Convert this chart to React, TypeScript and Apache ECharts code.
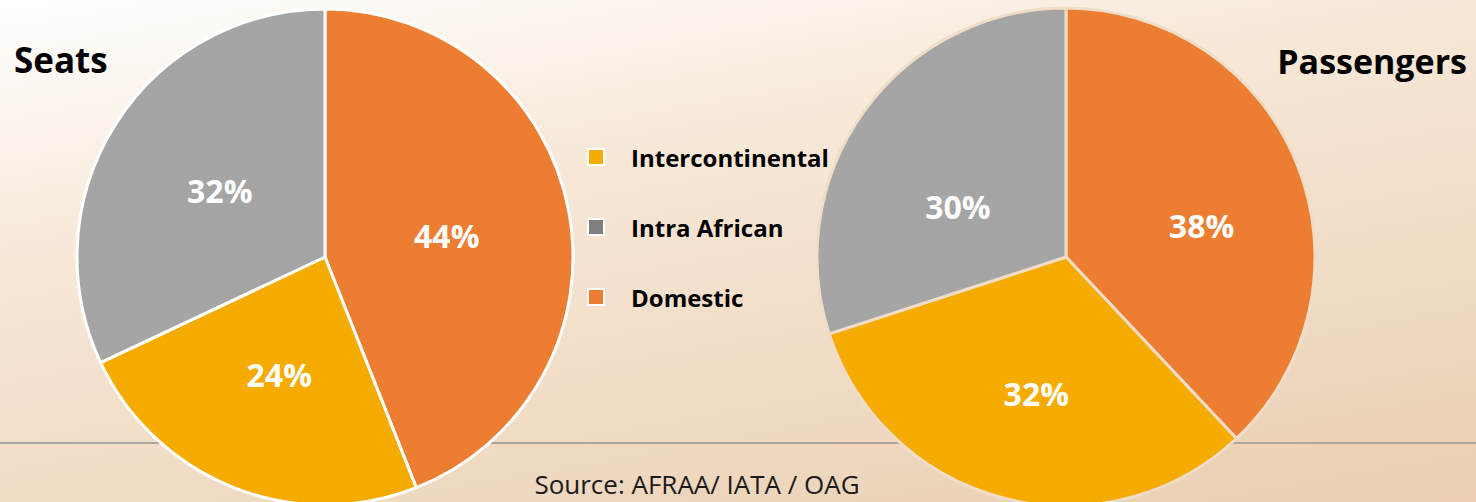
import React, { useEffect, useRef } from "react";
import * as echarts from "echarts";

const categories = ["Domestic", "Intercontinental", "Intra African"];
const seatsValues = [44, 24, 32];
const passengerValues = [38, 32, 30];
const legendOrder = ["Intercontinental", "Intra African", "Domestic"];
const sliceColors: Record<string, string> = {
  Domestic: "#ED7D31",
  Intercontinental: "#F5AB00",
  "Intra African": "#A5A5A5",
};
const legendColors: Record<string, string> = {
  Domestic: "#ED7D31",
  Intercontinental: "#F5AB00",
  "Intra African": "#7F7F7F",
};
const titles = ["Seats", "Passengers"];
const sourceText = "Source: AFRAA/ IATA / OAG";

// label nudges [dx, dy] per series / data index, mimicking the original placement
const labelNudges = [
  [
    [-3, 2],
    [1, -1],
    [2, 2],
  ],
  [
    [17, 15],
    [2, 13],
    [-5, 24],
  ],
];

const FONT = "'Open Sans', Lato, sans-serif";

export default function App() {
  const ref = useRef<HTMLDivElement>(null);
  useEffect(() => {
    document.body.style.margin = "0";
    const chart = echarts.init(ref.current!, null, { renderer: "svg" });
    const mkData = (vals: number[]) =>
      categories.map((c, i) => ({
        name: c,
        value: vals[i],
        itemStyle: { color: sliceColors[c] },
      }));
    const labelCfg = {
      show: true,
      position: "inside",
      formatter: "{c}%",
      color: "#FFFFFF",
      fontSize: 32,
      fontWeight: "bold",
      fontFamily: FONT,
    };
    const labelLayout = (p: any) => {
      const n = labelNudges[p.seriesIndex]?.[p.dataIndex] || [0, 0];
      return { dx: n[0], dy: n[1] };
    };
    chart.setOption({
      animation: false,
      title: [
        {
          text: titles[0],
          left: 14,
          top: 42,
          padding: 0,
          textStyle: { fontSize: 35, fontWeight: "bold", color: "#000", fontFamily: FONT },
        },
        {
          text: titles[1],
          right: 9,
          top: 44,
          padding: 0,
          textStyle: { fontSize: 34, fontWeight: "bold", color: "#000", fontFamily: FONT },
        },
      ],
      legend: {
        orient: "vertical",
        left: 587,
        top: 145,
        padding: 0,
        itemWidth: 16,
        itemHeight: 16,
        itemGap: 46,
        icon: "rect",
        selectedMode: false,
        textStyle: {
          fontSize: 24,
          lineHeight: 24,
          fontWeight: "bold",
          color: "#000",
          fontFamily: FONT,
          padding: [0, 0, 0, 22],
        },
        data: legendOrder.map((n) => ({ name: n, itemStyle: { color: legendColors[n] } })),
      },
      graphic: [
        {
          type: "line",
          z: 0,
          shape: { x1: 0, y1: 443, x2: 1476, y2: 443 },
          style: { stroke: "#ADA59C", lineWidth: 2 },
        },
        {
          type: "text",
          z: 0,
          x: 697,
          y: 484,
          style: {
            text: sourceText,
            fontSize: 26,
            fontFamily: FONT,
            fill: "#1a1a1a",
            align: "center",
            verticalAlign: "middle",
          },
        },
      ],
      series: [
        {
          type: "pie",
          z: 2,
          center: [325, 257],
          radius: 248,
          startAngle: 90,
          clockwise: true,
          silent: true,
          itemStyle: { borderColor: "#FFFFFF", borderWidth: 3 },
          label: labelCfg,
          labelLine: { show: false },
          labelLayout,
          data: mkData(seatsValues),
        },
        {
          type: "pie",
          z: 2,
          center: [1066, 257],
          radius: 249,
          startAngle: 90,
          clockwise: true,
          silent: true,
          itemStyle: { borderColor: "#F0DDC8", borderWidth: 3 },
          label: labelCfg,
          labelLine: { show: false },
          labelLayout,
          data: mkData(passengerValues),
        },
      ],
    });
    return () => chart.dispose();
  }, []);
  return (
    <div
      ref={ref}
      style={{
        position: "absolute",
        left: 0,
        top: 0,
        width: 1476,
        height: 502,
        background: "linear-gradient(170deg, #FFFFFF 0%, #F7E8D8 35%, #EACFB1 100%)",
      }}
    />
  );
}
